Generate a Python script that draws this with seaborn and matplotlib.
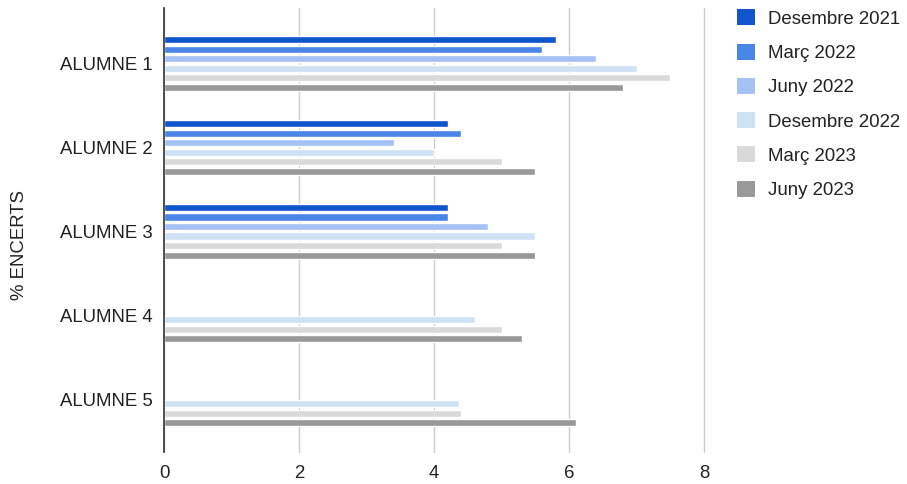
import numpy as np
import pandas as pd
import matplotlib
matplotlib.use("Agg")
import matplotlib.pyplot as plt
from matplotlib.patches import Patch
import seaborn as sns

students = ["ALUMNE 1", "ALUMNE 2", "ALUMNE 3", "ALUMNE 4", "ALUMNE 5"]
periods = ["Desembre 2021", "Març 2022", "Juny 2022", "Desembre 2022", "Març 2023", "Juny 2023"]
colors = ["#1155cc", "#4a86e8", "#a4c2f4", "#cfe2f3", "#d9d9d9", "#999999"]

desembre_2021 = [5.8, 4.2, 4.2, np.nan, np.nan]
marc_2022 = [5.6, 4.4, 4.2, np.nan, np.nan]
juny_2022 = [6.4, 3.4, 4.8, np.nan, np.nan]
desembre_2022 = [7.0, 4.0, 5.5, 4.6, 4.37]
marc_2023 = [7.5, 5.0, 5.0, 5.0, 4.4]
juny_2023 = [6.8, 5.5, 5.5, 5.3, 6.1]
x_ticks = [0, 2, 4, 6, 8]

series = [desembre_2021, marc_2022, juny_2022, desembre_2022, marc_2023, juny_2023]
rows = []
for p, vals in zip(periods, series):
    for s, v in zip(students, vals):
        rows.append({"alumne": s, "periode": p, "valor": v})
df = pd.DataFrame(rows).dropna()

sns.set_style("white")
plt.rcParams["font.family"] = ["Liberation Sans", "DejaVu Sans"]

fig = plt.figure(figsize=(9.07, 4.84), dpi=100)
ax = fig.add_axes([164/907, 1-452/484, (704-164)/907, (452-8)/484])

sns.barplot(data=df, y="alumne", x="valor", hue="periode", orient="h",
            order=students, hue_order=periods, palette=colors,
            width=0.68, gap=0.26, legend=False, ax=ax, errorbar=None,
            saturation=1)

ax.set_xlim(0, 8)
ax.set_ylim(4.63, -0.66)
ax.set_xticks(x_ticks)
ax.set_xticklabels([str(t) for t in x_ticks])
ax.grid(axis="x", color="#cccccc", linewidth=1)
ax.grid(axis="y", visible=False)
for gl in ax.get_xgridlines():
    gl.set_clip_on(False)
ax.set_axisbelow(True)
for side in ["top", "right", "bottom"]:
    ax.spines[side].set_visible(False)
ax.spines["left"].set_color("#333333")
ax.spines["left"].set_linewidth(1.2)
ax.spines["left"].set_zorder(5)
ax.tick_params(axis="both", length=0, labelsize=13.4, colors="#222222")
ax.tick_params(axis="y", pad=8)
ax.tick_params(axis="x", pad=9)
ax.set_xlabel("")
ax.set_ylabel("")
fig.text(20/907, 1-245/484, "% ENCERTS", rotation=90, va="center", ha="center",
         fontsize=13.4, color="#222222")

handles = [Patch(facecolor=c, edgecolor="none") for c in colors]
fig.legend(handles, periods, loc="upper left", bbox_to_anchor=(730/907, 1-2/484),
           frameon=False, fontsize=13.4, handlelength=0.95, handleheight=0.95,
           handletextpad=0.7, labelspacing=0.85, borderaxespad=0,
           labelcolor="#222222")

fig.savefig("out.png", dpi=100)
